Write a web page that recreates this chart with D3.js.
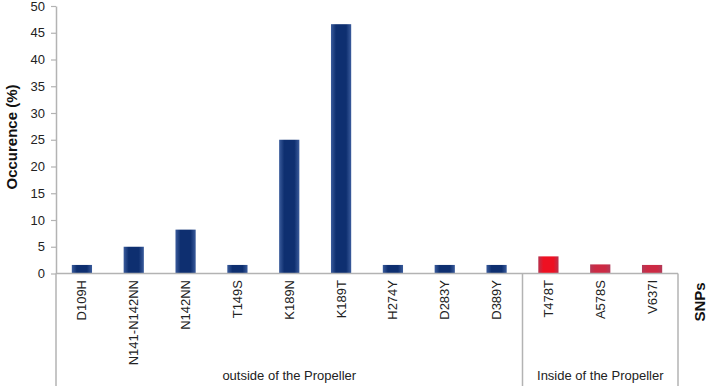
<!DOCTYPE html>
<html>
<head>
<meta charset="utf-8">
<script src="https://cdn.jsdelivr.net/npm/d3@7"></script>
<style>
  body { margin: 0; background: #fff; }
  text { font-family: "Liberation Sans", Arial, sans-serif; }
</style>
</head>
<body>
<div id="viz"></div>
<script>
"use strict";

// SNPs and their occurrence (%)
let snps = ["D109H", "N141-N142NN", "N142NN", "T149S", "K189N", "K189T",
            "H274Y", "D283Y", "D389Y", "T478T", "A578S", "V637I"];
let occurence = [1.6, 5, 8.2, 1.6, 25, 46.6, 1.6, 1.6, 1.6, 3.2, 1.7, 1.6];
// bar colour key: outside / inside of the propeller (T478T is brighter)
let barColour = ["blue", "blue", "blue", "blue", "blue", "blue",
                 "blue", "blue", "blue", "redBright", "red", "red"];
let groups = [
    {name: "outside of the Propeller", from: 0, to: 8},
    {name: "Inside of the Propeller", from: 9, to: 11}
];
let yTicks = [0, 5, 10, 15, 20, 25, 30, 35, 40, 45, 50];

function initChart(){
    let viz_width = 708;
    let viz_height = 386;
    let left = 56, right = 678, top = 6, base = 273.5;

    let xScale = d3.scaleBand()
                   .domain(snps)
                   .range([left, right])
                   .paddingInner(0.61)
                   .paddingOuter(0.305);

    let yScale = d3.scaleLinear()
                   .domain([0, 50])
                   .range([base, top]);

    let svg = d3.select('#viz')
                .append('svg')
                .attr('width', viz_width)
                .attr('height', viz_height);

    let defs = svg.append('defs');
    function grad(id, edge, mid){
        let g = defs.append('linearGradient').attr('id', id)
                    .attr('x1', '0%').attr('x2', '100%').attr('y1', '0%').attr('y2', '0%');
        g.append('stop').attr('offset', '0%').attr('stop-color', edge);
        g.append('stop').attr('offset', '25%').attr('stop-color', mid);
        g.append('stop').attr('offset', '75%').attr('stop-color', mid);
        g.append('stop').attr('offset', '100%').attr('stop-color', edge);
    }
    grad('blue', '#3b5c9c', '#0e2f70');
    grad('red', '#b23a58', '#cc2a44');
    grad('redBright', '#b8324e', '#ee1022');

    // y axis
    let yAxis = d3.axisLeft(yScale).tickValues(yTicks).tickSize(5).tickSizeOuter(0);
    let ya = svg.append('g')
       .attr('transform', `translate(${left},0)`)
       .call(yAxis);
    ya.select('.domain').attr('stroke', '#b3b3b3').attr('stroke-width', 1.5);
    ya.selectAll('.tick line').attr('stroke', '#b3b3b3').attr('stroke-width', 1.2);
    ya.selectAll('.tick text')
      .attr('font-size', '13px')
      .attr('fill', '#222')
      .attr('x', -11);

    // bars
    svg.selectAll('rect.bar')
       .data(snps)
       .enter()
       .append('rect')
       .attr('class', 'bar')
       .attr('x', d => xScale(d))
       .attr('width', xScale.bandwidth())
       .attr('y', (d, i) => yScale(occurence[i]))
       .attr('height', (d, i) => base - yScale(occurence[i]))
       .attr('fill', (d, i) => `url(#${barColour[i]})`);

    // x baseline
    svg.append('line')
       .attr('x1', left).attr('x2', right)
       .attr('y1', base).attr('y2', base)
       .attr('stroke', '#b3b3b3').attr('stroke-width', 1.5);

    // x tick labels (rotated)
    svg.selectAll('text.snp')
       .data(snps)
       .enter()
       .append('text')
       .attr('class', 'snp')
       .attr('transform', d => `translate(${xScale(d) + xScale.bandwidth() / 2 + 4.5},280) rotate(-90)`)
       .attr('text-anchor', 'end')
       .attr('font-size', '13px')
       .attr('fill', '#222')
       .text(d => d);

    // group dividers and names
    let step = xScale.step();
    let bounds = [left].concat(groups.map(g => left + step * (g.to + 1)));
    svg.selectAll('line.div')
       .data(bounds)
       .enter()
       .append('line')
       .attr('x1', d => d).attr('x2', d => d)
       .attr('y1', base).attr('y2', viz_height)
       .attr('stroke', '#b3b3b3').attr('stroke-width', 1.5);

    svg.selectAll('text.group')
       .data(groups)
       .enter()
       .append('text')
       .attr('x', g => left + step * (g.from + g.to + 1) / 2)
       .attr('y', 380)
       .attr('text-anchor', 'middle')
       .attr('font-size', '13px')
       .attr('fill', '#222')
       .text(g => g.name);

    // axis titles
    svg.append('text')
       .attr('transform', `translate(17,137) rotate(-90)`)
       .attr('text-anchor', 'middle')
       .attr('font-size', '15px')
       .attr('font-weight', 'bold')
       .attr('fill', '#111')
       .text('Occurence (%)');

    svg.append('text')
       .attr('transform', `translate(705,302) rotate(-90)`)
       .attr('text-anchor', 'middle')
       .attr('font-size', '15px')
       .attr('font-weight', 'bold')
       .attr('fill', '#111')
       .text('SNPs');
}

initChart();
</script>
</body>
</html>
